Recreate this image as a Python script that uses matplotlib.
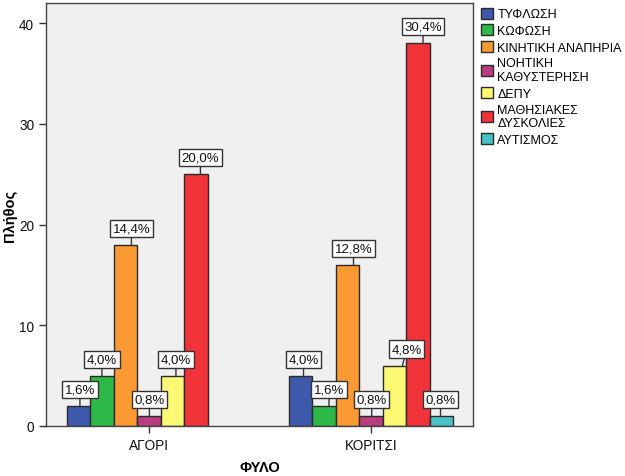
import numpy as np
import matplotlib
matplotlib.use('Agg')
import matplotlib.pyplot as plt
from matplotlib.patches import Patch

plt.rcParams['font.family'] = ['Liberation Sans', 'DejaVu Sans']

# data: number of students per disability and gender
fylo = ['ΑΓΟΡΙ', 'ΚΟΡΙΤΣΙ']
kathgories = ['ΤΥΦΛΩΣΗ', 'ΚΩΦΩΣΗ', 'ΚΙΝΗΤΙΚΗ ΑΝΑΠΗΡΙΑ', 'ΝΟΗΤΙΚΗ\nΚΑΘΥΣΤΕΡΗΣΗ',
              'ΔΕΠΥ', 'ΜΑΘΗΣΙΑΚΕΣ\nΔΥΣΚΟΛΙΕΣ', 'ΑΥΤΙΣΜΟΣ']
agori = [2, 5, 18, 1, 5, 25, 0]
koritsi = [5, 2, 16, 1, 6, 38, 1]
synolo = sum(agori) + sum(koritsi)

xromata = ['#3e58ac', '#2eb848', '#fb9a33', '#b83c7e', '#fbf873', '#ef3338', '#48c3c5']

# small label nudges (pixels) like the SPSS label placement
nudge = [[1.5, 0, 6, 0.5, 3.5, 4.5, 0],
         [3, 5, 6, 0.7, 12, 5, -1]]

fig = plt.figure(figsize=(6.25, 4.77), dpi=100)
ax = fig.add_axes([46/625, 1 - 427/477, (473-46)/625, (427-4)/477])
ax.set_facecolor('#f0f0f0')

kentra = np.array([0, 9.45])
w = 1.0
px = 23.5  # pixels per data unit on x

for g, times in enumerate([agori, koritsi]):
    for i, v in enumerate(times):
        if v == 0:
            continue
        x = kentra[g] + (i - 3) * w
        ax.bar(x, v, width=w, color=xromata[i], edgecolor='#2a2a2a', linewidth=1, zorder=2)
        pososto = f'{v / synolo * 100:.1f}%'.replace('.', ',')
        dx = nudge[g][i]
        lead = np.clip(dx, -8, 8) / px
        ax.annotate(pososto, xy=(x + lead, v), xytext=(dx - lead * px, 10.5),
                    textcoords='offset pixels', ha='center', va='bottom',
                    fontsize=9.5, color='#111111',
                    bbox=dict(boxstyle='square,pad=0.2', fc='white', ec='#333333', lw=1),
                    arrowprops=dict(arrowstyle='-', color='#333333', lw=1,
                                    shrinkA=0, shrinkB=0),
                    zorder=3)

ax.set_xlim(-4.38, 13.79)
ax.set_ylim(0, 42)
ax.set_yticks([0, 10, 20, 30, 40])
ax.set_xticks(kentra)
ax.set_xticklabels(fylo)
ax.tick_params(axis='both', labelsize=9.8, colors='#333333', length=5, width=1, labelcolor='#111111')
for s in ax.spines.values():
    s.set_color('#444444')
    s.set_linewidth(1)

ax.set_ylabel('Πλήθος', fontsize=10.5, fontweight='bold')
ax.yaxis.set_label_coords(-0.084, 0.5)
ax.set_xlabel('ΦΥΛΟ', fontsize=10.5, fontweight='bold')
ax.xaxis.set_label_coords(0.5, -0.097)
ax.xaxis.label.set_va('center')
ax.yaxis.label.set_va('center')

handles = [Patch(facecolor=c, edgecolor='#2a2a2a', linewidth=1) for c in xromata]
fig.legend(handles, kathgories, loc='upper left', bbox_to_anchor=(481/625, 1 - 8.5/477),
           frameon=False, fontsize=9, borderpad=0, borderaxespad=0,
           handlelength=1.0, handleheight=1.0, handletextpad=0.3, labelspacing=0.3)

fig.savefig('out.png', dpi=100)
